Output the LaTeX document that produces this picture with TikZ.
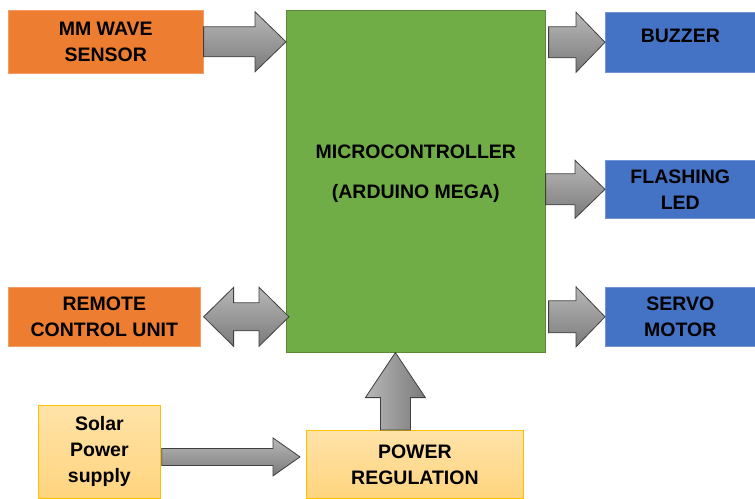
\documentclass[tikz,border=0pt]{standalone}
\usepackage{fontspec}
\setmainfont{Liberation Sans}
\usepackage{tikz}
\usetikzlibrary{positioning, calc}

\definecolor{sensorc}{HTML}{ED7D31}
\definecolor{mcuc}{HTML}{70AD47}
\definecolor{outc}{HTML}{4472C4}
\definecolor{pwrtop}{HTML}{FFE3A8}
\definecolor{pwrbot}{HTML}{FFD47E}
\definecolor{pwrline}{HTML}{FFC000}

\newcommand{\rarrow}[6][]{\path[blockarrow,#1] let \p1=(#2), \p2=(#3) in
  (\x1,\y1+#4pt) -- (\x2-#6pt,\y1+#4pt) -- (\x2-#6pt,\y1+#5pt) -- (\x2,\y1)
  -- (\x2-#6pt,\y1-#5pt) -- (\x2-#6pt,\y1-#4pt) -- (\x1,\y1-#4pt) -- cycle;}
\newcommand{\uarrow}[6][]{\path[blockarrow,left color=black!28,right color=black!52,#1] let \p1=(#2), \p2=(#3) in
  (\x1+#4pt,\y1) -- (\x1+#4pt,\y2-#6pt) -- (\x1+#5pt,\y2-#6pt) -- (\x1,\y2)
  -- (\x1-#5pt,\y2-#6pt) -- (\x1-#4pt,\y2-#6pt) -- (\x1-#4pt,\y1) -- cycle;}
\newcommand{\darrow}[6][]{\path[blockarrow,#1] let \p1=(#2), \p2=(#3) in
  (\x1,\y1) -- (\x1+#6pt,\y1+#5pt) -- (\x1+#6pt,\y1+#4pt) -- (\x2-#6pt,\y1+#4pt)
  -- (\x2-#6pt,\y1+#5pt) -- (\x2,\y1) -- (\x2-#6pt,\y1-#5pt) -- (\x2-#6pt,\y1-#4pt)
  -- (\x1+#6pt,\y1-#4pt) -- (\x1+#6pt,\y1-#5pt) -- cycle;}

\begin{document}
\begin{tikzpicture}[x=1pt, y=-1pt,
    box/.style={anchor=north west, inner sep=0pt, align=center,
      font=\fontsize{19.5}{26}\selectfont\bfseries},
    sensor/.style={box, fill=sensorc, draw=sensorc!75!white, line width=0.6pt},
    mcubox/.style={box, fill=mcuc, draw=mcuc!80!black, line width=0.6pt},
    outbox/.style={box, fill=outc, draw=outc!75!white, line width=0.6pt},
    pwrbox/.style={box, top color=pwrtop, bottom color=pwrbot, draw=pwrline, line width=0.8pt},
    blockarrow/.style={draw=black!75, line width=0.8pt, line join=miter,
      top color=black!28, bottom color=black!52}]
\useasboundingbox (0,0) rectangle (755,498);

\node[sensor, minimum width=195pt, minimum height=63pt] (mm) at (8,10) {MM WAVE\\SENSOR};
\node[sensor, minimum width=192pt, minimum height=59pt] (rcu) at (8,287) {REMOTE\\CONTROL UNIT};
\node[mcubox, minimum width=259pt, minimum height=342pt] (mcu) at (286,10) {};
\node[box, anchor=center] (mcutxt) at ($(mcu.center)+(0,-8)$) {MICROCONTROLLER\\[14pt](ARDUINO MEGA)};
\node[outbox, minimum width=150pt, minimum height=60pt, text depth=14pt] (bz) at (605,12) {BUZZER};
\node[outbox, minimum width=150pt, minimum height=58pt] (led) at (605,160) {FLASHING\\LED};
\node[outbox, minimum width=150pt, minimum height=59pt] (srv) at (605,287) {SERVO\\MOTOR};
\node[pwrbox, minimum width=122pt, minimum height=93pt] (sol) at (38,405) {Solar\\Power\\supply};
\node[pwrbox, minimum width=217pt, minimum height=68pt] (pr) at (306,430) {POWER\\REGULATION};

\rarrow{mm.east}{mcu.west}{15}{30}{31}
\rarrow{$(mcu.east |- bz.west)+(3,0)$}{bz.west}{15.5}{30}{29}
\rarrow{mcu.east |- led.west}{led.west}{15.5}{29}{30}
\rarrow{$(mcu.east |- srv.west)+(3,0)$}{srv.west}{16}{30}{29}
\darrow{$(rcu.east)+(3,0)$}{$(mcu.west |- rcu.east)+(3,0)$}{14}{29.5}{30}
\rarrow{$(sol.east)+(1,5)$}{$(pr.west)+(-6,0)$}{8.5}{19}{27}
\uarrow{$(pr.north)+(-19.5,0)$}{mcu.south}{15}{30}{45}
\end{tikzpicture}
\end{document}
